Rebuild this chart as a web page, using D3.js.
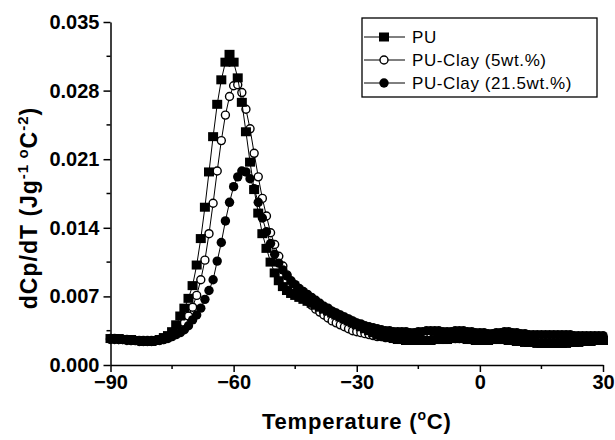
<!DOCTYPE html>
<html>
<head>
<meta charset="utf-8">
<script src="https://cdn.jsdelivr.net/npm/d3@7"></script>
<style>
  body { margin: 0; background: #fff; }
  svg { display: block; font-family: Arial, "Liberation Sans", Helvetica, sans-serif; }
</style>
</head>
<body>
<div id="chart"></div>
<script>
// Temperature (°C), one reading per degree
const temps = [
  -90, -89, -88, -87, -86, -85, -84, -83, -82, -81,
  -80, -79, -78, -77, -76, -75, -74, -73, -72, -71,
  -70, -69, -68, -67, -66, -65, -64, -63, -62, -61,
  -60, -59, -58, -57, -56, -55, -54, -53, -52, -51,
  -50, -49, -48, -47, -46, -45, -44, -43, -42, -41,
  -40, -39, -38, -37, -36, -35, -34, -33, -32, -31,
  -30, -29, -28, -27, -26, -25, -24, -23, -22, -21,
  -20, -19, -18, -17, -16, -15, -14, -13, -12, -11,
  -10, -9, -8, -7, -6, -5, -4, -3, -2, -1,
  0, 1, 2, 3, 4, 5, 6, 7, 8, 9,
  10, 11, 12, 13, 14, 15, 16, 17, 18, 19,
  20, 21, 22, 23, 24, 25, 26, 27, 28, 29,
  30
];

// dCp/dT, PU
const pu = [
  0.0027, 0.0027, 0.0027, 0.0026, 0.0026, 0.0026, 0.0025, 0.0025, 0.0024, 0.0024,
  0.0024, 0.0025, 0.0026, 0.0028, 0.0030, 0.0034, 0.0041, 0.0050, 0.0058, 0.0068,
  0.0081, 0.0102, 0.0129, 0.0161, 0.0197, 0.0233, 0.0266, 0.0291, 0.0309, 0.0317,
  0.0309, 0.0293, 0.0268, 0.0238, 0.0207, 0.0179, 0.0155, 0.0134, 0.0119, 0.0105,
  0.0094, 0.0086, 0.0080, 0.0076, 0.0073, 0.0071, 0.0069, 0.0067, 0.0065, 0.0063,
  0.0061, 0.0059, 0.0057, 0.0055, 0.0053, 0.0051, 0.0049, 0.0047, 0.0045, 0.0043,
  0.0041, 0.0039, 0.0037, 0.0035, 0.0033, 0.0031, 0.0030, 0.0029, 0.0028, 0.0027,
  0.0026, 0.0026, 0.0025, 0.0025, 0.0025, 0.0025, 0.0025, 0.0025, 0.0025, 0.0026,
  0.0026, 0.0026, 0.0026, 0.0027, 0.0027, 0.0027, 0.0027, 0.0026, 0.0026, 0.0025,
  0.0025, 0.0025, 0.0025, 0.0026, 0.0026, 0.0026, 0.0026, 0.0025, 0.0025, 0.0024,
  0.0024, 0.0023, 0.0023, 0.0023, 0.0022, 0.0022, 0.0022, 0.0022, 0.0022, 0.0022,
  0.0022, 0.0022, 0.0023, 0.0023, 0.0023, 0.0024, 0.0024, 0.0024, 0.0025, 0.0025,
  0.0025
];

// dCp/dT, PU-Clay (5wt.%)
const clay5 = [
  0.0027, 0.0027, 0.0026, 0.0026, 0.0026, 0.0025, 0.0025, 0.0025, 0.0025, 0.0025,
  0.0025, 0.0025, 0.0026, 0.0026, 0.0028, 0.0030, 0.0033, 0.0037, 0.0043, 0.0050,
  0.0059, 0.0071, 0.0087, 0.0107, 0.0134, 0.0165, 0.0198, 0.0229, 0.0255, 0.0274,
  0.0285, 0.0286, 0.0278, 0.0261, 0.0241, 0.0216, 0.0192, 0.0170, 0.0152, 0.0135,
  0.0123, 0.0111, 0.0101, 0.0092, 0.0085, 0.0079, 0.0074, 0.0069, 0.0065, 0.0061,
  0.0057, 0.0054, 0.0051, 0.0048, 0.0045, 0.0043, 0.0041, 0.0039, 0.0037, 0.0035,
  0.0034, 0.0033, 0.0032, 0.0031, 0.0030, 0.0029, 0.0029, 0.0028, 0.0028, 0.0027,
  0.0027, 0.0027, 0.0027, 0.0027, 0.0027, 0.0027, 0.0027, 0.0028, 0.0028, 0.0028,
  0.0028, 0.0028, 0.0028, 0.0028, 0.0027, 0.0027, 0.0027, 0.0027, 0.0027, 0.0027,
  0.0028, 0.0028, 0.0028, 0.0029, 0.0029, 0.0029, 0.0029, 0.0029, 0.0029, 0.0028,
  0.0028, 0.0028, 0.0028, 0.0028, 0.0028, 0.0028, 0.0028, 0.0028, 0.0028, 0.0028,
  0.0028, 0.0028, 0.0028, 0.0028, 0.0028, 0.0028, 0.0028, 0.0028, 0.0028, 0.0028,
  0.0028
];

// dCp/dT, PU-Clay (21.5wt.%)
const clay21 = [
  0.0026, 0.0026, 0.0026, 0.0026, 0.0025, 0.0025, 0.0025, 0.0024, 0.0024, 0.0024,
  0.0024, 0.0025, 0.0025, 0.0026, 0.0027, 0.0029, 0.0031, 0.0033, 0.0036, 0.0040,
  0.0046, 0.0051, 0.0058, 0.0067, 0.0076, 0.0087, 0.0106, 0.0125, 0.0147, 0.0166,
  0.0182, 0.0192, 0.0198, 0.0197, 0.0190, 0.0180, 0.0166, 0.0150, 0.0136, 0.0124,
  0.0113, 0.0104, 0.0097, 0.0091, 0.0086, 0.0082, 0.0078, 0.0075, 0.0072, 0.0069,
  0.0066, 0.0063, 0.0060, 0.0058, 0.0055, 0.0053, 0.0051, 0.0049, 0.0047, 0.0045,
  0.0043, 0.0042, 0.0040, 0.0039, 0.0038, 0.0037, 0.0036, 0.0035, 0.0035, 0.0034,
  0.0034, 0.0034, 0.0034, 0.0033, 0.0033, 0.0034, 0.0034, 0.0035, 0.0035, 0.0035,
  0.0035, 0.0034, 0.0034, 0.0034, 0.0035, 0.0035, 0.0035, 0.0034, 0.0034, 0.0033,
  0.0033, 0.0033, 0.0032, 0.0032, 0.0033, 0.0033, 0.0034, 0.0034, 0.0033, 0.0033,
  0.0032, 0.0032, 0.0031, 0.0031, 0.0031, 0.0031, 0.0031, 0.0031, 0.0031, 0.0031,
  0.0031, 0.0031, 0.0031, 0.0030, 0.0030, 0.0030, 0.0030, 0.0030, 0.0030, 0.0030,
  0.0030
];

const xTicks = [-90, -60, -30, 0, 30];
const xMinor = [-75, -45, -15, 15];
const yTicks = [0, 0.007, 0.014, 0.021, 0.028, 0.035];
const yMinor = [0.0035, 0.0105, 0.0175, 0.0245, 0.0315];

const seriesNames = ["PU", "PU-Clay (5wt.%)", "PU-Clay (21.5wt.%)"];

const width = 615, height = 440;
const svg = d3.select("#chart").append("svg")
    .attr("width", width)
    .attr("height", height);

const x = d3.scaleLinear().domain([-90, 30]).range([110.5, 603]);
const y = d3.scaleLinear().domain([0, 0.035]).range([365, 22]);

// axes (left and bottom only, ticks pointing out)
const xAxis = svg.append("g")
    .attr("transform", `translate(0,${y(0)})`)
    .call(d3.axisBottom(x).tickValues(xTicks).tickSize(7).tickSizeOuter(0).tickPadding(3).tickFormat(d3.format("d")));
xAxis.append("g").selectAll("line").data(xMinor).join("line")
    .attr("x1", d => x(d)).attr("x2", d => x(d))
    .attr("y1", 0).attr("y2", 4)
    .attr("stroke", "#000").attr("stroke-width", 1.5);

const yAxis = svg.append("g")
    .attr("transform", `translate(${x(-90)},0)`)
    .call(d3.axisLeft(y).tickValues(yTicks).tickSize(7).tickSizeOuter(0).tickPadding(4).tickFormat(d3.format(".3f")));
yAxis.append("g").selectAll("line").data(yMinor).join("line")
    .attr("y1", d => y(d)).attr("y2", d => y(d))
    .attr("x1", 0).attr("x2", -4)
    .attr("stroke", "#000").attr("stroke-width", 1.5);

svg.selectAll(".domain").attr("stroke", "#000").attr("stroke-width", 1.5);
svg.selectAll(".tick line").attr("stroke", "#000").attr("stroke-width", 1.5);
svg.selectAll(".tick text")
    .attr("fill", "#000")
    .style("font-size", "20px")
    .style("font-weight", "bold")
    .style("font-family", "Arial, 'Liberation Sans', sans-serif");

// series: draw order so the PU squares sit on top
const series = [
    { name: seriesNames[1], values: clay5, symbol: "open" },
    { name: seriesNames[2], values: clay21, symbol: "dot" },
    { name: seriesNames[0], values: pu, symbol: "square" }
];

const line = d3.line()
    .x(d => x(d[0]))
    .y(d => y(d[1]));

function drawSymbol(g, type, cx, cy) {
    if (type === "square") {
        g.append("rect")
            .attr("x", cx - 5).attr("y", cy - 4.5)
            .attr("width", 10).attr("height", 9)
            .attr("fill", "#000");
    } else if (type === "open") {
        g.append("circle")
            .attr("cx", cx).attr("cy", cy).attr("r", 4)
            .attr("fill", "#fff").attr("stroke", "#000").attr("stroke-width", 1.4);
    } else {
        g.append("circle")
            .attr("cx", cx).attr("cy", cy).attr("r", 4.7)
            .attr("fill", "#000");
    }
}

series.forEach(s => {
    const pts = temps.map((t, i) => [t, s.values[i]]);
    const g = svg.append("g");
    g.append("path")
        .datum(pts)
        .attr("fill", "none")
        .attr("stroke", "#000")
        .attr("stroke-width", 1)
        .attr("d", line);
    pts.forEach(p => drawSymbol(g, s.symbol, x(p[0]), y(p[1])));
});

// legend
const legend = svg.append("g");
legend.append("rect")
    .attr("x", 362).attr("y", 18)
    .attr("width", 235).attr("height", 79)
    .attr("fill", "#fff").attr("stroke", "#000").attr("stroke-width", 1.3);

const legendRows = [
    { name: seriesNames[0], symbol: "square" },
    { name: seriesNames[1], symbol: "open" },
    { name: seriesNames[2], symbol: "dot" }
];
legendRows.forEach((r, i) => {
    const ly = 37 + i * 23;
    const g = legend.append("g");
    g.append("line")
        .attr("x1", 364).attr("x2", 405)
        .attr("y1", ly).attr("y2", ly)
        .attr("stroke", "#000").attr("stroke-width", 1);
    drawSymbol(g, r.symbol, 384, ly);
    g.append("text")
        .attr("x", 412).attr("y", ly)
        .attr("dy", "0.36em")
        .style("font-size", "17px")
        .style("letter-spacing", "0.6px")
        .text(r.name);
});

// axis titles
const xTitle = svg.append("text")
    .attr("x", (x(-90) + x(30)) / 2)
    .attr("y", 429)
    .attr("text-anchor", "middle")
    .style("font-size", "22px")
    .style("font-weight", "bold")
    .style("letter-spacing", "0.8px");
xTitle.append("tspan").text("Temperature (");
xTitle.append("tspan").attr("dy", -9).style("font-size", "14px").text("o");
xTitle.append("tspan").attr("dy", 9).text("C)");

const yTitle = svg.append("text")
    .attr("transform", "translate(37,208) rotate(-90)")
    .attr("text-anchor", "middle")
    .style("font-size", "23px")
    .style("font-weight", "bold")
    .style("letter-spacing", "1px");
yTitle.append("tspan").text("dCp/dT (Jg");
yTitle.append("tspan").attr("dy", -9).style("font-size", "15px").text("-1");
yTitle.append("tspan").attr("dy", 0).style("font-size", "15px").text(" o");
yTitle.append("tspan").attr("dy", 9).text("C");
yTitle.append("tspan").attr("dy", -9).style("font-size", "15px").text("-2");
yTitle.append("tspan").attr("dy", 9).text(")");
</script>
</body>
</html>
